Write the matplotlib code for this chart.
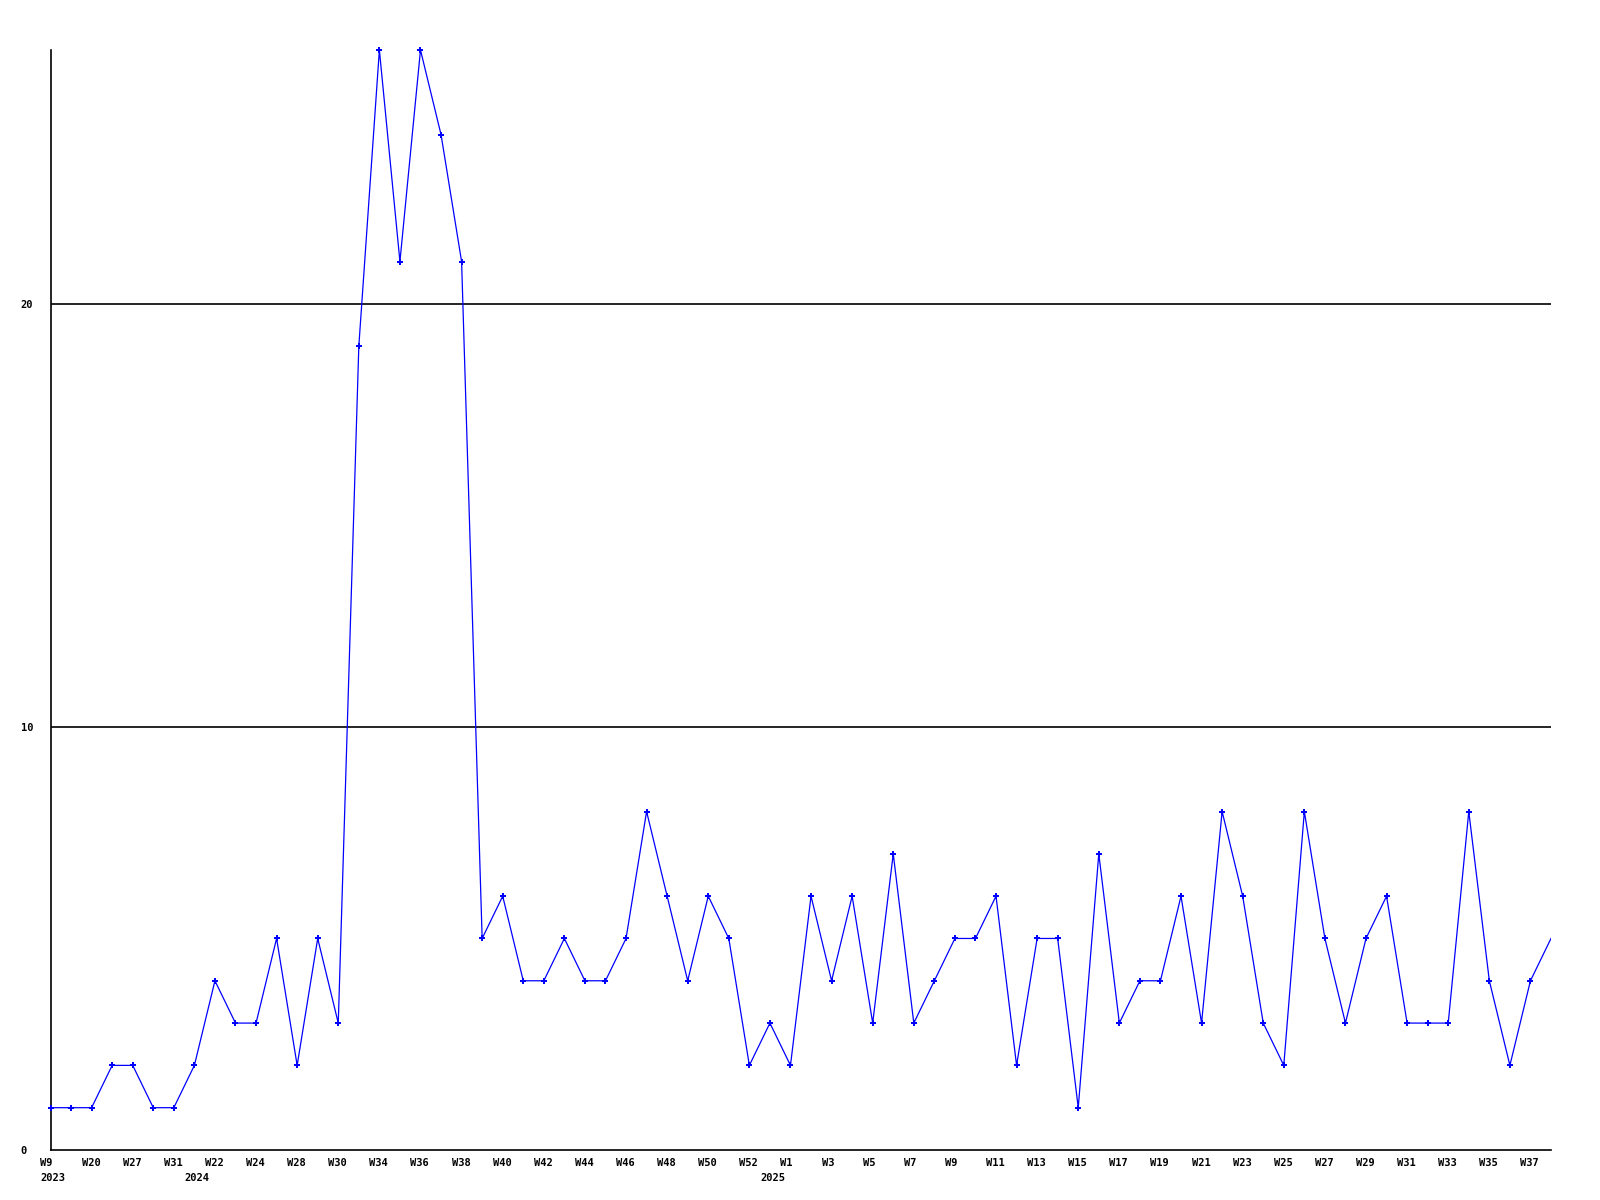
import matplotlib.pyplot as plt
from matplotlib.transforms import ScaledTranslation

# weekly counts, one value per point (equally spaced)
values = [1, 1, 1, 2, 2, 1, 1, 2, 4, 3, 3, 5, 2, 5, 3, 19, 26, 21, 26, 24,
          21, 5, 6, 4, 4, 5, 4, 4, 5, 8, 6, 4, 6, 5, 2, 3, 2, 6, 4, 6,
          3, 7, 3, 4, 5, 5, 6, 2, 5, 5, 1, 7, 3, 4, 4, 6, 3, 8, 6, 3,
          2, 8, 5, 3, 5, 6, 3, 3, 3, 8, 4, 2, 4, 5]

week_labels = ["W9", "W20", "W27", "W31", "W22", "W24", "W28", "W30", "W34",
               "W36", "W38", "W40", "W42", "W44", "W46", "W48", "W50", "W52",
               "W1", "W3", "W5", "W7", "W9", "W11", "W13", "W15", "W17", "W19",
               "W21", "W23", "W25", "W27", "W29", "W31", "W33", "W35", "W37"]
week_pos = list(range(0, 2 * len(week_labels), 2))

years = ["2023", "2024", "2025"]
year_pos = [0, 7, 35]

fig = plt.figure(figsize=(16, 12), dpi=100)
ax = fig.add_axes([50.5 / 1600, 1 - 1150 / 1200, 1500.5 / 1600, 1100 / 1200])

x = list(range(len(values)))
ax.plot(x, values, color="#0000ff", lw=0.9)
ax.plot(x[:-1], values[:-1], ls="none", marker="P", ms=4.4, mew=0,
        color="#0000ff", clip_on=False, zorder=3)

ax.set_xlim(0, len(values) - 1)
ax.set_ylim(0, 26)

for v in (10, 20):
    ax.axhline(v, color="black", lw=1.2, zorder=0)

for s in ("top", "right"):
    ax.spines[s].set_visible(False)
for s in ("left", "bottom"):
    ax.spines[s].set_linewidth(1.2)

font = dict(family="DejaVu Sans Mono", weight="bold", size=7.5)

ax.set_yticks([0, 10, 20], ["0", "10", "20"], **font)
ax.tick_params(axis="y", length=0, pad=30 * 0.72)
for lab in ax.get_yticklabels():
    lab.set_ha("left")

ax.set_xticks(week_pos, week_labels, **font)
ax.tick_params(axis="x", length=0, pad=6)
shift = ScaledTranslation(-10 / 100, 0, fig.dpi_scale_trans)
for lab in ax.get_xticklabels():
    lab.set_ha("left")
    lab.set_transform(lab.get_transform() + shift)

trans = ax.get_xaxis_transform() + ScaledTranslation(-10 / 100, -23 / 100, fig.dpi_scale_trans)
for yr, p in zip(years, year_pos):
    ax.text(p, 0, yr, transform=trans, ha="left", va="top", clip_on=False, **font)

fig.savefig("out.png", dpi=100, facecolor="white")
